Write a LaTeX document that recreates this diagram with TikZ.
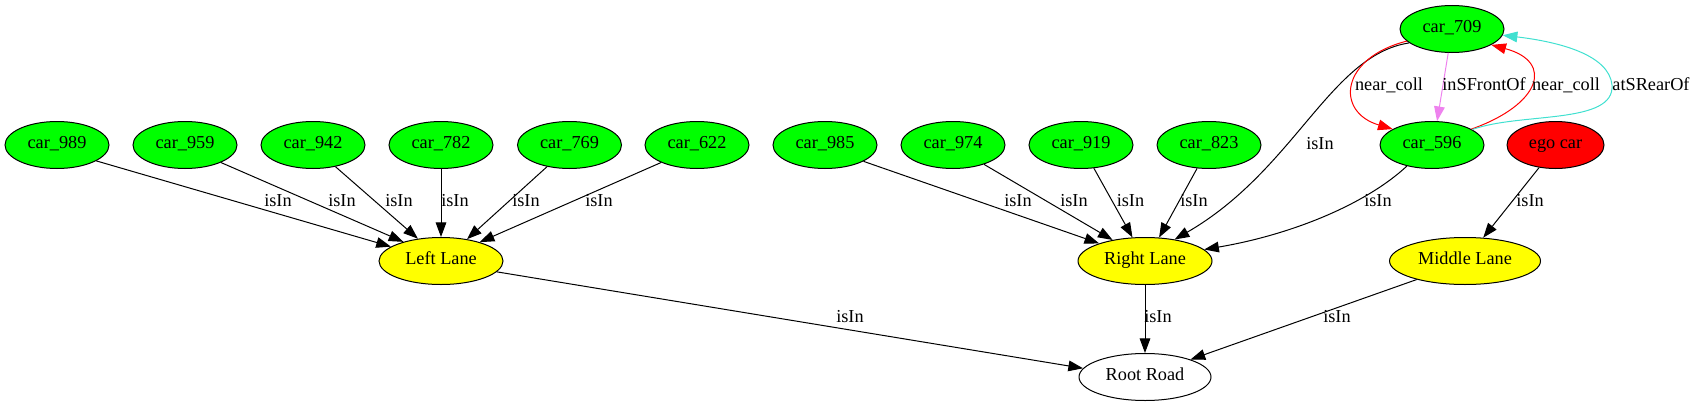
\documentclass[tikz,border=0pt]{standalone}
\usepackage{fontspec}
\setmainfont{Liberation Serif}
\usetikzlibrary{shapes.geometric,arrows.meta}
\definecolor{gvgreen}{HTML}{00FF00}
\definecolor{gvyellow}{HTML}{FFFF00}
\definecolor{gvred}{HTML}{FF0000}
\definecolor{gvturq}{HTML}{40E0D0}
\definecolor{gvviolet}{HTML}{EE82EE}
\begin{document}
\begin{tikzpicture}[x=0.75pt,y=-0.75pt,
  every node/.style={font=\fontsize{13.7}{16}\selectfont, text height=0.7em, text depth=0.2em},
  ell/.style={ellipse, draw=black, line width=0.75pt, inner sep=0pt, minimum height=35.25pt},
  car/.style={ell, fill=gvgreen, minimum width=78pt},
  lane/.style={ell, fill=gvyellow},
  edge/.style={draw=black, line width=0.75pt, -{Triangle[length=11pt,width=8pt]}},
  lbl/.style={inner sep=0pt}]
\useasboundingbox (0,0) rectangle (1696,407);
% nodes
\node[car] (c989) at (57,145) {car\_989};
\node[car] (c959) at (185,145) {car\_959};
\node[car] (c942) at (313,145) {car\_942};
\node[car] (c782) at (441,145) {car\_782};
\node[car] (c769) at (569.5,145) {car\_769};
\node[car] (c622) at (697,145) {car\_622};
\node[car] (c985) at (825,145) {car\_985};
\node[car] (c974) at (953,145) {car\_974};
\node[car] (c919) at (1081,145) {car\_919};
\node[car] (c823) at (1209,145) {car\_823};
\node[car] (c709) at (1452,29) {car\_709};
\node[car] (c596) at (1432,145) {car\_596};
\node[ell, fill=gvred, minimum width=72.75pt] (ego) at (1555.5,145) {ego car};
\node[lane, minimum width=93pt] (LL) at (441,261) {Left Lane};
\node[lane, minimum width=100.5pt] (RL) at (1145,261) {Right Lane};
\node[lane, minimum width=113.25pt] (ML) at (1465,261) {Middle Lane};
\node[ell, fill=white, minimum width=99pt] (RR) at (1145,377) {Root Road};
\coordinate (tq) at (1612,85);
% edges to Left Lane
\draw[edge] (c989.-22) -- (LL.164);
\draw[edge] (c959.-26) -- (LL.153);
\draw[edge] (c942.-44) -- (LL.136);
\draw[edge] (c782.south) -- (LL.north);
\draw[edge] (c769.-136) -- (LL.40);
\draw[edge] (c622.-154) -- (LL.26);
% edges to Right Lane
\draw[edge] (c985.-23) -- (RL.159);
\draw[edge] (c974.-32) -- (RL.147);
\draw[edge] (c919.-61) -- (RL.118);
\draw[edge] (c823.-117) -- (RL.59);
\draw[edge] (c709.198) .. controls (1330,55) and (1295,170) .. (RL.36);
\draw[edge] (c596.-140) .. controls (1365,205) and (1290,235) .. (RL.11);
% ego
\draw[edge] (ego.-126) -- (ML.52);
% lanes to root
\draw[edge] (LL.-11) -- (RR.172);
\draw[edge] (RL.south) -- (RR.north);
\draw[edge] (ML.-159) -- (RR.21);
% top cluster
\draw[edge, draw=gvred] (c709.195) .. controls (1340,58) and (1335,112) .. (c596.158);
\draw[edge, draw=gvviolet] (c709.-99) -- (c596.78);
\draw[edge, draw=gvred] (c596.22) .. controls (1540,105) and (1555,62) .. (c709.-22);
\draw[edge, draw=gvturq] (c596.21) .. controls (1520,112) and (1615,125) .. (tq) .. controls (1609,55) and (1560,42) .. (c709.-7);
% labels
\node[lbl] (l1) at (278,203) {isIn};
\node[lbl] (l2) at (342,203) {isIn};
\node[lbl] (l3) at (399,203) {isIn};
\node[lbl] (l4) at (455,203) {isIn};
\node[lbl] (l5) at (526,203) {isIn};
\node[lbl] (l6) at (599,203) {isIn};
\node[lbl] (l7) at (1018,203) {isIn};
\node[lbl] (l8) at (1074,203) {isIn};
\node[lbl] (l9) at (1130.5,203) {isIn};
\node[lbl] (l10) at (1194,203) {isIn};
\node[lbl] (l11) at (1320,146) {isIn};
\node[lbl] (l12) at (1378,203) {isIn};
\node[lbl] (l13) at (1530,203) {isIn};
\node[lbl] (l14) at (1158,319) {isIn};
\node[lbl] (l15) at (1337,319) {isIn};
\node[lbl] (l16) at (850,319) {isIn};
\node[lbl] (l17) at (1389,87) {near\_coll};
\node[lbl] (l18) at (1484,87) {inSFrontOf};
\node[lbl] (l19) at (1566,87) {near\_coll};
\node[lbl] (l20) at (1651,87) {atSRearOf};
\end{tikzpicture}
\end{document}
